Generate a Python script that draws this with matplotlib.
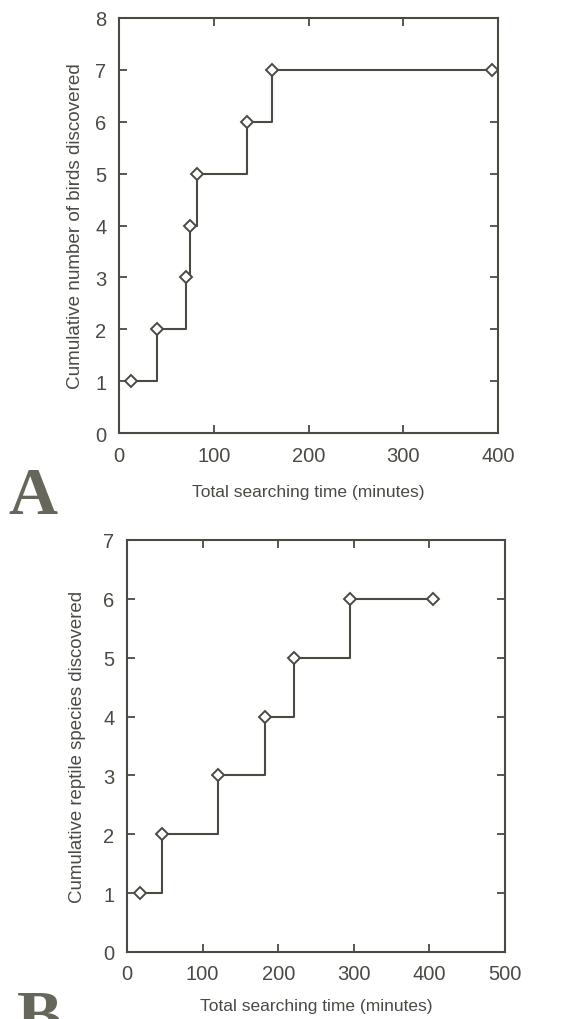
import matplotlib
matplotlib.use("Agg")
import matplotlib.pyplot as plt

# Panel A: birds
bird_time = [13, 40, 71, 75, 82, 135, 161, 394]
bird_count = [1, 2, 3, 4, 5, 6, 7, 7]
# Panel B: reptiles
rept_time = [17, 46, 121, 183, 221, 295, 405]
rept_count = [1, 2, 3, 4, 5, 6, 6]

xlabel = "Total searching time (minutes)"
ylabel_a = "Cumulative number of birds discovered"
ylabel_b = "Cumulative reptile species discovered"

W, H = 566, 1020
fig = plt.figure(figsize=(W / 100, H / 100), dpi=100)
fig.patch.set_facecolor("white")
ink = "#4a4a45"
plt.rcParams["font.family"] = ["Liberation Sans", "DejaVu Sans"]


def px_axes(l, t, r, b):
    return fig.add_axes([l / W, 1 - b / H, (r - l) / W, (b - t) / H])


def style(ax, xmax, ymax, ylab, xlab_y, ylab_x, ysize):
    ax.set_xlim(0, xmax)
    ax.set_ylim(0, ymax)
    ax.set_xticks(range(0, xmax + 1, 100))
    ax.set_yticks(range(0, ymax + 1))
    ax.tick_params(direction="in", length=6, width=1.3, color=ink,
                   top=True, right=True, labelsize=14.5, labelcolor=ink, pad=9)
    for s in ax.spines.values():
        s.set_color(ink)
        s.set_linewidth(1.5)
    ax.set_xlabel(xlabel, fontsize=12.5, color=ink)
    ax.set_ylabel(ylab, fontsize=ysize, color=ink)
    ax.xaxis.set_label_coords(0.5, xlab_y)
    ax.yaxis.set_label_coords(ylab_x, 0.5)


axA = px_axes(119, 19, 498, 434)
axA.step(bird_time, bird_count, where="post", color=ink, lw=1.5, zorder=2)
axA.plot(bird_time, bird_count, ls="none", marker="D", ms=6.3, mfc="white",
         mec=ink, mew=1.4, zorder=3)
style(axA, 400, 8, ylabel_a, -0.122, -0.093, 13.6)

axB = px_axes(127, 541, 505, 953)
axB.step(rept_time, rept_count, where="post", color=ink, lw=1.5, zorder=2)
axB.plot(rept_time, rept_count, ls="none", marker="D", ms=6.3, mfc="white",
         mec=ink, mew=1.4, zorder=3)
style(axB, 500, 7, ylabel_b, -0.112, -0.108, 13.4)

fig.text(8 / W, 1 - 514 / H, "A", fontsize=49, fontweight="bold",
         family="Liberation Serif", color="#66665a", va="baseline", ha="left")
fig.text(17 / W, 1 - 1037 / H, "B", fontsize=49, fontweight="bold",
         family="Liberation Serif", color="#66665a", va="baseline", ha="left")

fig.savefig("out.png", dpi=100)
